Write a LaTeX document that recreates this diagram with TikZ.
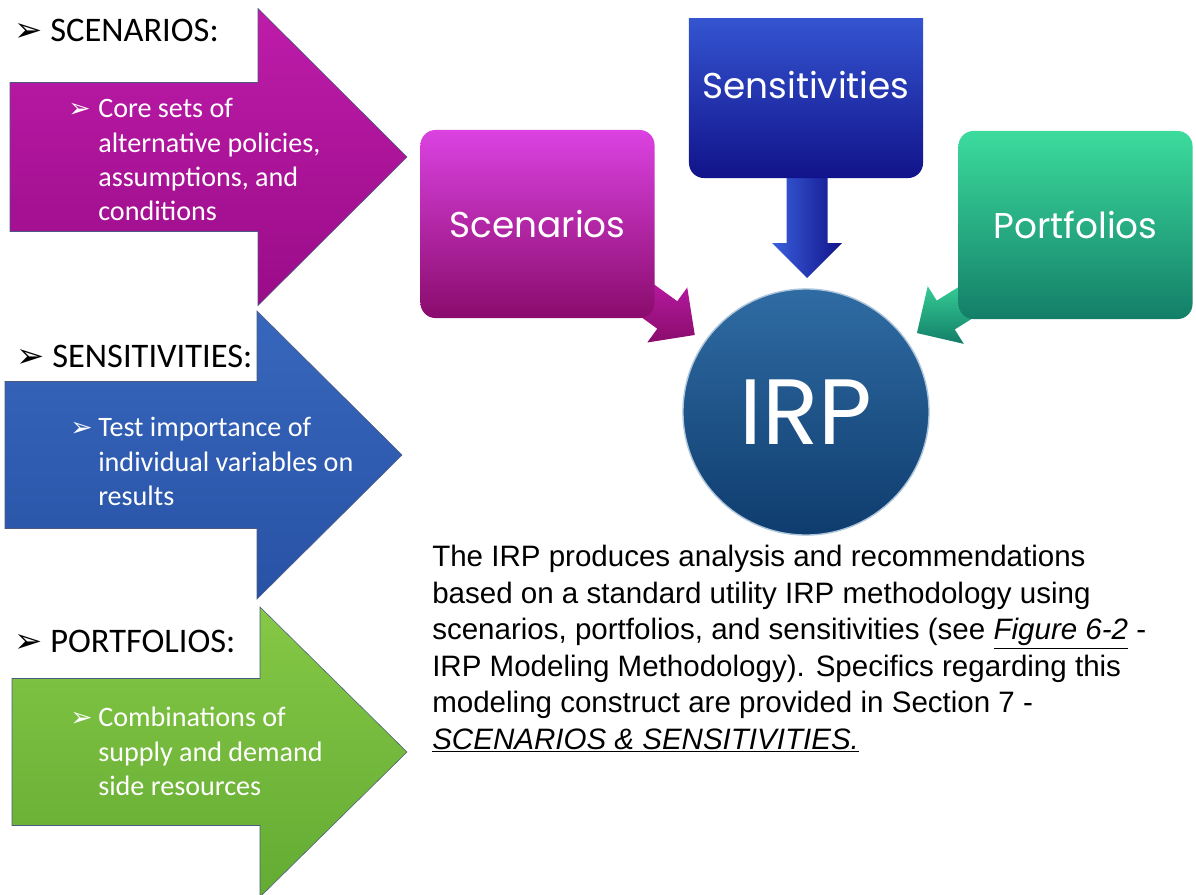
\documentclass[tikz,border=0pt]{standalone}
\usepackage{fontspec}
\setmainfont{Liberation Sans}
\newfontfamily\calib{Carlito}
\newfontfamily\geo{Poppins}
\newfontfamily\dingfont{DejaVu Sans}
\usepackage{tikz}
\usetikzlibrary{positioning}

\definecolor{scnTop}{HTML}{BE1CAA}
\definecolor{scnBot}{HTML}{9A0C88}
\definecolor{senTop}{HTML}{3767BC}
\definecolor{senBot}{HTML}{2852A6}
\definecolor{prtTop}{HTML}{86C846}
\definecolor{prtBot}{HTML}{63AB33}
\definecolor{scnBoxTop}{HTML}{DB42E1}
\definecolor{scnBoxBot}{HTML}{8A0C6C}
\definecolor{senBoxTop}{HTML}{3A5FDC}
\definecolor{senBoxBot}{HTML}{11138A}
\definecolor{prtBoxTop}{HTML}{3CDC9D}
\definecolor{prtBoxBot}{HTML}{137E68}
\definecolor{irpTop}{HTML}{2F6CA3}
\definecolor{irpBot}{HTML}{0F3C6E}
\definecolor{edge}{HTML}{4C5A80}

% block arrow along +x: length, shaft half width, head half width, head length
\newcommand{\arrowpath}[4]{(0,-#2) -- (#1-#4,-#2) -- (#1-#4,-#3) -- (#1,0)
    -- (#1-#4,#3) -- (#1-#4,#2) -- (0,#2) -- cycle}
\newcommand{\arrowmark}[1]{{\dingfont\fontsize{#1}{#1}\selectfont ➢}}

\begin{document}
\begin{tikzpicture}[
    x=0.025cm, y=-0.025cm,
    bigarrow/.style={draw=edge, line width=0.4pt},
    box/.style={rectangle, rounded corners=0.375cm, minimum width=5.85cm,
        minimum height=4.7cm, text=white, font=\geo\fontsize{25.5}{30}\selectfont},
    heading/.style={anchor=base west, inner sep=0, font=\calib\fontsize{24.5}{28}\selectfont},
    intext/.style={anchor=north west, inner sep=0, align=left, text=white,
        font=\calib\fontsize{20}{24.5}\selectfont},
    inmark/.style={anchor=base west, inner sep=0, text=white}
]
\useasboundingbox (0,0) rectangle (1196,894);
\clip (0,0) rectangle (1196,894);

% Left arrows
\shade[bigarrow, top color=scnTop, bottom color=scnBot, shift={(10,157)}] \arrowpath{397}{74.5}{148.5}{149};
\shade[bigarrow, top color=senTop, bottom color=senBot, shift={(5,455)}] \arrowpath{397}{73.5}{144}{145};
\shade[bigarrow, top color=prtTop, bottom color=prtBot, shift={(12,752)}] \arrowpath{395}{73.5}{145}{147};

% Headings
\node[heading] (scnhead) at (14,42) {\arrowmark{24}\ SCENARIOS:};
\node[heading] (senhead) at (16,367) {\arrowmark{24}\ SENSITIVITIES:};
\node[heading] (prthead) at (14,652) {\arrowmark{24}\ PORTFOLIOS:};

% Arrow texts
\node[inmark] (scnmark) at (68,117) {\arrowmark{19}};
\node[intext] (scntext) at (98,98) {Core sets of\\alternative policies,\\assumptions, and\\conditions};
\node[inmark] (senmark) at (70,436) {\arrowmark{19}};
\node[intext] (sentext) at (98,417) {Test importance of\\individual variables on\\results};
\node[inmark] (prtmark) at (70,726) {\arrowmark{19}};
\node[intext] (prttext) at (98,707) {Combinations of\\supply and demand\\side resources};

% Pointers into IRP
\shade[top color=scnTop, bottom color=scnBoxBot, shift={(626,285)}, rotate=-36] \arrowpath{85}{17}{34}{34};
\shade[top color=prtBoxTop, bottom color=prtBoxBot, shift={(989,288)}, rotate=212] \arrowpath{85}{17}{34}{34};
\shade[left color=senBoxTop, right color=senBoxBot, shift={(807,165)}, rotate=-90] \arrowpath{113}{20.5}{35}{35};

% Boxes
\node[box, top color=scnBoxTop, bottom color=scnBoxBot] (scnbox) at (537.5,224) {Scenarios};
\node[box, top color=prtBoxTop, bottom color=prtBoxBot] (prtbox) at (1075.5,225) {Portfolios};
\begin{scope}
\clip (680,18) rectangle (935,200);
\node[box, minimum height=4.65cm, top color=senBoxTop, bottom color=senBoxBot] (senbox) at (806,85) {Sensitivities};
\end{scope}

% IRP
\node[circle, minimum size=6.15cm, draw=irpTop!40!white, line width=1pt,
    top color=irpTop, bottom color=irpBot, text=white,
    font=\geo\fontsize{66}{66}\selectfont] (irp) at (806,412) {IRP};

% Description
\node[anchor=north west, inner sep=0, align=left, font=\fontsize{21}{26}\selectfont] (para) at (432,545)
{The IRP produces analysis and recommendations\\
based on a standard utility IRP methodology using\\
scenarios, portfolios, and sensitivities (see \underline{\textit{Figure 6-2}} -\\
IRP Modeling Methodology). Specifics regarding this\\
modeling construct are provided in Section 7 -\\
\underline{\textit{SCENARIOS \& SENSITIVITIES.}}};
\end{tikzpicture}
\end{document}
